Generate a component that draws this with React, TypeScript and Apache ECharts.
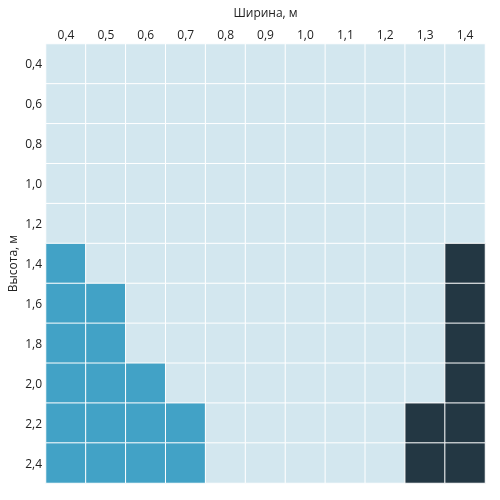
import React, { useEffect, useRef } from "react";
import * as echarts from "echarts";

const widths = ["0,4", "0,5", "0,6", "0,7", "0,8", "0,9", "1,0", "1,1", "1,2", "1,3", "1,4"];
const heights = ["0,4", "0,6", "0,8", "1,0", "1,2", "1,4", "1,6", "1,8", "2,0", "2,2", "2,4"];
// 0 = standard, 1 = narrow, 2 = wide (per height row, per width column)
const grid: number[][] = [
  [0, 0, 0, 0, 0, 0, 0, 0, 0, 0, 0],
  [0, 0, 0, 0, 0, 0, 0, 0, 0, 0, 0],
  [0, 0, 0, 0, 0, 0, 0, 0, 0, 0, 0],
  [0, 0, 0, 0, 0, 0, 0, 0, 0, 0, 0],
  [0, 0, 0, 0, 0, 0, 0, 0, 0, 0, 0],
  [1, 0, 0, 0, 0, 0, 0, 0, 0, 0, 2],
  [1, 1, 0, 0, 0, 0, 0, 0, 0, 0, 2],
  [1, 1, 0, 0, 0, 0, 0, 0, 0, 0, 2],
  [1, 1, 1, 0, 0, 0, 0, 0, 0, 0, 2],
  [1, 1, 1, 1, 0, 0, 0, 0, 0, 2, 2],
  [1, 1, 1, 1, 0, 0, 0, 0, 0, 2, 2],
];
const colors = ["#d3e7ef", "#42a2c6", "#233743"];

export default function App() {
  const ref = useRef<HTMLDivElement>(null);
  useEffect(() => {
    if (!ref.current) return;
    const chart = echarts.init(ref.current, undefined, { renderer: "svg" });
    const data: [number, number, number][] = [];
    grid.forEach((row, yi) => row.forEach((v, xi) => data.push([xi, yi, v])));
    const font = "Open Sans";
    chart.setOption({
      animation: false,
      textStyle: { fontFamily: font },
      grid: { left: 46, right: 15, top: 44, bottom: 17, containLabel: false, outerBoundsMode: "none" },
      xAxis: {
        type: "category",
        data: widths,
        position: "top",
        name: "Ширина, м",
        nameLocation: "middle",
        nameGap: 26,
        nameMoveOverlap: false,
        nameTextStyle: { color: "#222", fontSize: 12, fontFamily: font },
        axisLine: { show: false },
        axisTick: { show: false },
        axisLabel: { color: "#222", fontSize: 12, margin: 4, fontFamily: font },
        splitArea: { show: false },
      },
      yAxis: {
        type: "category",
        data: heights,
        inverse: true,
        name: "Высота, м",
        nameLocation: "middle",
        nameGap: 28,
        nameMoveOverlap: false,
        nameTextStyle: { color: "#222", fontSize: 12, fontFamily: font },
        axisLine: { show: false },
        axisTick: { show: false },
        axisLabel: { color: "#222", fontSize: 12, margin: 4, fontFamily: font },
        splitArea: { show: false },
      },
      visualMap: {
        show: false,
        type: "piecewise",
        dimension: 2,
        pieces: [
          { value: 0, color: colors[0] },
          { value: 1, color: colors[1] },
          { value: 2, color: colors[2] },
        ],
      },
      series: [
        {
          type: "heatmap",
          data,
          itemStyle: { borderColor: "#ffffff", borderWidth: 1 },
          emphasis: { disabled: true },
        },
      ],
    });
    return () => chart.dispose();
  }, []);
  return <div ref={ref} style={{ position: "fixed", left: 0, top: 0, width: 500, height: 500 }} />;
}
